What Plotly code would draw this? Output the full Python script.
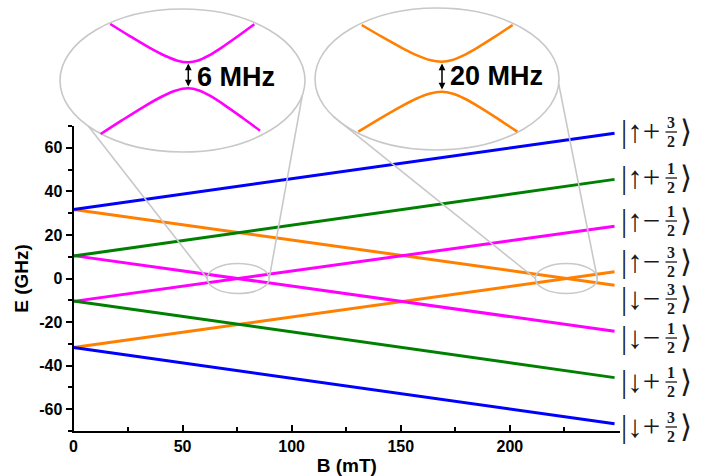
import math
import plotly.graph_objects as go

# ---------------- data ----------------
field_mT = [0, 248]
blue_up = [31.7, 66.7]
blue_down = [-31.7, -66.7]
green_up = [10.3, 45.5]
green_down = [-10.3, -45.5]
magenta_up = [-10.5, 24.0]
magenta_down = [10.5, -24.2]
orange_up = [-31.7, 3.1]
orange_down = [31.7, -3.1]

x_tickvals = [0, 50, 100, 150, 200]
x_ticktext = ["0", "50", "100", "150", "200"]
y_tickvals = [-60, -40, -20, 0, 20, 40, 60]
y_ticktext = ["-60", "-40", "-20", "0", "20", "40", "60"]

ket_spin = ["↑", "↑", "↑", "↑", "↓", "↓", "↓", "↓"]
ket_sign = ["+", "+", "−", "−", "−", "−", "+", "+"]
ket_num = ["3", "1", "1", "3", "3", "1", "1", "3"]
ket_den = "2"

gap_labels = ["6 MHz", "20 MHz"]
# anticrossing positions (B in mT, E in GHz)
crossing_B = [75.5, 225.9]
crossing_E = [0.0, 0.0]

# inset (zoomed) anticrossing branches (inset view units)
inset1_up_x = [-72.2, -52.7, -33.2, -17.6, -5.9, 5.8, 15.7, 25.6, 38.8, 55.3, 71.8]
inset1_up_y = [-56.5, -44.4, -32.8, -24.7, -20.1, -18.2, -20.0, -24.6, -32.7, -44.2, -56.2]
inset1_lo_x = [-81.8, -59.9, -38.0, -20.5, -7.3, 5.8, 16.6, 27.3, 41.7, 59.6, 77.5]
inset1_lo_y = [53.5, 39.4, 25.8, 16.0, 10.2, 7.8, 10.0, 15.2, 24.3, 37.0, 50.2]
inset2_up_x = [-75.3, -55.3, -35.3, -19.3, -7.3, 4.7, 15.4, 26.0, 40.2, 58.0, 75.7]
inset2_up_y = [-54.0, -42.3, -31.2, -23.4, -19.0, -17.3, -19.0, -23.4, -31.2, -42.3, -54.0]
inset2_lo_x = [-78.7, -57.9, -37.0, -20.3, -7.8, 4.7, 16.0, 27.4, 42.5, 61.4, 80.3]
inset2_lo_y = [52.7, 40.1, 28.1, 19.5, 14.7, 12.7, 14.7, 19.5, 28.1, 40.1, 52.7]

# ---------------- layout constants ----------------
W, H = 713, 476
PX0, PX1 = 73.5, 620.0      # main plot x pixel extent
PY0, PY1 = 126.0, 431.0     # main plot y pixel extent (top, bottom)
XR = [0, 250.5]
YR = [-70, 70]


def to_px(b, e):
    x = PX0 + (b - XR[0]) / (XR[1] - XR[0]) * (PX1 - PX0)
    y = PY1 - (e - YR[0]) / (YR[1] - YR[0]) * (PY1 - PY0)
    return x, y


fig = go.Figure()

series = [
    (orange_down, "#ff8000"), (orange_up, "#ff8000"),
    (magenta_down, "#ff00ff"), (magenta_up, "#ff00ff"),
    (green_up, "#008000"), (green_down, "#008000"),
    (blue_up, "#0000ff"), (blue_down, "#0000ff"),
]
for vals, col in series:
    fig.add_trace(go.Scatter(x=field_mT, y=vals, mode="lines",
                             line=dict(color=col, width=3),
                             xaxis="x", yaxis="y", showlegend=False,
                             hoverinfo="skip"))

insets = [
    dict(cx=182.5, cy=80.5, rx=122.5, ry=71.5, col="#ff00ff",
         up=(inset1_up_x, inset1_up_y), lo=(inset1_lo_x, inset1_lo_y),
         ax=188.3, a0=63.5, a1=88.0, tx=195, ty=77, a_left=-140, a_right=-12),
    dict(cx=437.0, cy=79.0, rx=122.0, ry=71.0, col="#ff8000",
         up=(inset2_up_x, inset2_up_y), lo=(inset2_lo_x, inset2_lo_y),
         ax=442.0, a0=63.5, a1=91.0, tx=448, ty=76, a_left=-148, a_right=-4),
]

shapes = []
annotations = []
gray = "#c8c8c8"
for i, ins in enumerate(insets):
    cx, cy, rx, ry = ins["cx"], ins["cy"], ins["rx"], ins["ry"]
    shapes.append(dict(type="circle", xref="x2", yref="y2", layer="below",
                       x0=cx - rx, x1=cx + rx, y0=cy - ry, y1=cy + ry,
                       line=dict(color=gray, width=1.6), fillcolor="white"))
    for bx, by in (ins["up"], ins["lo"]):
        fig.add_trace(go.Scatter(x=[cx + v for v in bx], y=[cy + v for v in by],
                                 mode="lines",
                                 line=dict(color=ins["col"], width=2.6,
                                           shape="spline", smoothing=0.8),
                                 xaxis="x2", yaxis="y2", showlegend=False,
                                 hoverinfo="skip"))
    sb, se = crossing_B[i], crossing_E[i]
    drx, dry = 14.2, 6.9
    shapes.append(dict(type="circle", xref="x", yref="y", layer="above",
                       x0=sb - drx, x1=sb + drx, y0=se - dry, y1=se + dry,
                       line=dict(color=gray, width=1.6)))
    lx, ly = to_px(sb - drx, se)
    rxp, ryp = to_px(sb + drx, se)
    tl = math.radians(ins["a_left"])
    tr = math.radians(ins["a_right"])
    p_l = (cx + rx * math.cos(tl), cy - ry * math.sin(tl))
    p_r = (cx + rx * math.cos(tr), cy - ry * math.sin(tr))
    shapes.append(dict(type="line", xref="x2", yref="y2", layer="above",
                       x0=p_l[0], y0=p_l[1], x1=lx, y1=ly,
                       line=dict(color=gray, width=1.6)))
    shapes.append(dict(type="line", xref="x2", yref="y2", layer="above",
                       x0=p_r[0], y0=p_r[1], x1=rxp, y1=ryp,
                       line=dict(color=gray, width=1.6)))
    annotations.append(dict(xref="x2", yref="y2", axref="x2", ayref="y2",
                            x=ins["ax"], y=ins["a0"], ax=ins["ax"], ay=ins["a1"],
                            text="", showarrow=True, arrowside="end+start",
                            arrowhead=2, arrowsize=0.9, arrowwidth=1.5,
                            arrowcolor="black"))
    annotations.append(dict(xref="x2", yref="y2", x=ins["tx"], y=ins["ty"],
                            text=gap_labels[i], showarrow=False,
                            xanchor="left", yanchor="middle",
                            font=dict(family="Liberation Sans", size=27,
                                      color="black", weight="bold")))

# ket labels at the right
label_y = [132, 178, 221, 262, 299, 338, 382, 427]
serif = "Liberation Serif, DejaVu Serif"
kc = "#1a1a1a"


def txt(x, y, s, size, bold=False, anchor="center"):
    annotations.append(dict(xref="x2", yref="y2", x=x, y=y, text=s,
                            showarrow=False, xanchor=anchor, yanchor="middle",
                            borderpad=0,
                            font=dict(family=serif, size=size, color=kc,
                                      weight="bold" if bold else "normal")))


for i, yc in enumerate(label_y):
    txt(620, yc - 1, "|" + ket_spin[i] + ket_sign[i], 31, anchor="left")
    txt(671, yc - 9.2, ket_num[i], 16, True)
    txt(671, yc + 9.4, ket_den, 16, True)
    txt(678.5, yc - 1, "⟩", 31, anchor="left")
    shapes.append(dict(type="line", xref="x2", yref="y2", layer="above",
                       x0=665.5, x1=677, y0=yc, y1=yc,
                       line=dict(color=kc, width=1.3)))

tickfont = dict(family="Liberation Sans", size=16, color="black", weight="bold")
titlefont = dict(family="Liberation Sans", size=19, color="black", weight="bold")

fig.update_layout(
    width=W, height=H,
    margin=dict(l=0, r=0, t=0, b=0, autoexpand=False),
    paper_bgcolor="white", plot_bgcolor="rgba(0,0,0,0)",
    showlegend=False,
    xaxis=dict(domain=[PX0 / W, PX1 / W], range=XR, anchor="y",
               showgrid=False, zeroline=False, showline=True,
               linecolor="black", linewidth=2,
               tickmode="array", tickvals=x_tickvals, ticktext=x_ticktext,
               ticks="inside", ticklen=6, tickwidth=1.5, tickcolor="black",
               minor=dict(tickmode="array", tickvals=[25, 75, 125, 175, 225],
                          ticks="inside", ticklen=4, tickwidth=1.5,
                          tickcolor="black"),
               tickfont=tickfont,
               title=dict(text="B (mT)", font=titlefont, standoff=4),
               automargin=False),
    yaxis=dict(domain=[1 - PY1 / H, 1 - PY0 / H], range=YR, anchor="x",
               showgrid=False, zeroline=False, showline=True,
               linecolor="black", linewidth=2,
               tickmode="array", tickvals=y_tickvals, ticktext=y_ticktext,
               ticks="outside", ticklen=6, tickwidth=1.5, tickcolor="black",
               minor=dict(tickmode="array",
                          tickvals=[-70, -50, -30, -10, 10, 30, 50, 70],
                          ticks="outside", ticklen=4, tickwidth=1.5,
                          tickcolor="black"),
               tickfont=tickfont,
               title=dict(text="E (GHz)", font=titlefont, standoff=6),
               automargin=False),
    xaxis2=dict(domain=[0, 1], range=[0, W], anchor="y2", visible=False,
                fixedrange=True),
    yaxis2=dict(domain=[0, 1], range=[H, 0], anchor="x2", visible=False,
                fixedrange=True),
    shapes=shapes,
    annotations=annotations,
)

fig.write_html("out.html")
